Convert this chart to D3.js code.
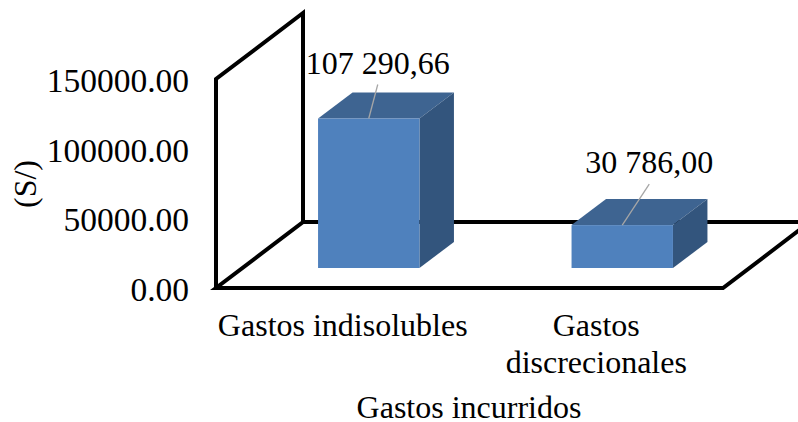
<!DOCTYPE html>
<html>
<head>
<meta charset="utf-8">
<script src="https://cdn.jsdelivr.net/npm/d3@7"></script>
<style>
html, body { margin: 0; padding: 0; background: #fff; overflow: hidden; }
svg { display: block; }
text { font-family: "Liberation Serif", serif; fill: #000; }
</style>
</head>
<body>
<div id="chart"></div>
<script>
const categories = ["Gastos indisolubles", "Gastos discrecionales"];
const categoryLines = [["Gastos indisolubles"], ["Gastos", "discrecionales"]];
const values = [107290.66, 30786.0];
const valueLabels = ["107 290,66", "30 786,00"];
const tickValues = [0, 50000, 100000, 150000];
const xTitle = "Gastos incurridos";
const yTitle = "(S/)";

const width = 798;
const height = 422;
const fontSize = 32;
const tickFontSize = 33.5;
const floorY = 288;
const wallTop = 79;
const plotLeft = 216;
const plotRight = 723;

// oblique offset of the 3d box, floor and wall
const backX = 87;
const backY = -66;
const barShiftX = 26;
const barShiftY = -20;
const barDepthX = 34.5;
const barDepthY = -26;

const svg = d3.select("#chart").append("svg").attr("width", width).attr("height", height);

const yScale = d3.scaleLinear([0, 150000], [floorY, wallTop]);
const xScale = d3.scaleBand(categories, [plotLeft, plotRight]).paddingInner(0.6).paddingOuter(0.3);

// wall and floor
const frame = svg.append("g").attr("fill", "none").attr("stroke", "#000").attr("stroke-width", 4).attr("stroke-linejoin", "miter");
frame.append("path").attr("d", d3.line()([
	[plotLeft, yScale(0)],
	[plotLeft, yScale(150000)],
	[plotLeft + backX, yScale(150000) + backY],
	[plotLeft + backX, yScale(0) + backY],
	[plotLeft, yScale(0)],
	[plotRight, yScale(0)],
	[plotRight + backX, yScale(0) + backY],
	[plotLeft + backX, yScale(0) + backY],
]));

// y axis labels
const yAxis = d3.axisLeft(yScale).tickValues(tickValues).tickSize(0).tickPadding(27).tickFormat(d3.format(".2f"));
const yAxisGroup = svg.append("g").attr("transform", `translate(${plotLeft},0)`).call(yAxis);
yAxisGroup.select(".domain").remove();
yAxisGroup.selectAll("text")
	.style("font-family", '"Liberation Serif", serif')
	.style("font-size", tickFontSize + "px")
	.attr("dy", "0.37em")
	.attr("fill", "#000");

// bars
const bars = svg.selectAll("g.bar").data(categories).join("g").attr("class", "bar");
const box = (d, i) => {
	const x0 = xScale(d) + barShiftX;
	const x1 = x0 + xScale.bandwidth();
	const y0 = yScale(0) + barShiftY;
	const y1 = yScale(values[i]) + barShiftY;
	return { x0, x1, y0, y1 };
};

bars.append("path")
	.attr("fill", "#3e6491")
	.attr("d", (d, i) => {
		const b = box(d, i);
		return d3.line()([[b.x0, b.y1], [b.x1, b.y1], [b.x1 + barDepthX, b.y1 + barDepthY], [b.x0 + barDepthX, b.y1 + barDepthY]]) + "Z";
	});
bars.append("path")
	.attr("fill", "#33557d")
	.attr("d", (d, i) => {
		const b = box(d, i);
		return d3.line()([[b.x1, b.y1], [b.x1, b.y0], [b.x1 + barDepthX, b.y0 + barDepthY], [b.x1 + barDepthX, b.y1 + barDepthY]]) + "Z";
	});
bars.append("rect")
	.attr("fill", "#4f81bd")
	.attr("x", (d, i) => box(d, i).x0)
	.attr("y", (d, i) => box(d, i).y1)
	.attr("width", xScale.bandwidth())
	.attr("height", (d, i) => box(d, i).y0 - box(d, i).y1);

// value labels with leader lines
const labelDx = [9, 27];
const leaderTop = [34, 41];
const labelUp = [45, 52];
bars.append("line")
	.attr("stroke", "#a6a6a6")
	.attr("stroke-width", 1.3)
	.attr("x1", (d, i) => (box(d, i).x0 + box(d, i).x1) / 2)
	.attr("y1", (d, i) => box(d, i).y1)
	.attr("x2", (d, i) => (box(d, i).x0 + box(d, i).x1) / 2 + labelDx[i])
	.attr("y2", (d, i) => box(d, i).y1 - leaderTop[i]);
bars.append("text")
	.attr("text-anchor", "middle")
	.style("font-size", fontSize + "px")
	.attr("x", (d, i) => (box(d, i).x0 + box(d, i).x1) / 2 + labelDx[i])
	.attr("y", (d, i) => box(d, i).y1 - labelUp[i])
	.text((d, i) => valueLabels[i]);

// category labels
const catLabels = svg.selectAll("text.cat").data(categories).join("text")
	.attr("class", "cat")
	.attr("text-anchor", "middle")
	.style("font-size", fontSize + "px")
	.attr("y", 336);
catLabels.selectAll("tspan").data((d, i) => categoryLines[i].map(t => ({ t, c: xScale(d) + xScale.bandwidth() / 2 }))).join("tspan")
	.attr("x", d => d.c)
	.attr("dy", (d, i) => (i ? 37 : 0))
	.text(d => d.t);

// axis titles
svg.append("text")
	.attr("text-anchor", "middle")
	.attr("x", 469)
	.attr("y", 418)
	.style("font-size", fontSize + "px")
	.text(xTitle);

svg.append("text")
	.attr("text-anchor", "middle")
	.attr("transform", "translate(36,184) rotate(-90)")
	.style("font-size", fontSize + "px")
	.text(yTitle);
</script>
</body>
</html>
